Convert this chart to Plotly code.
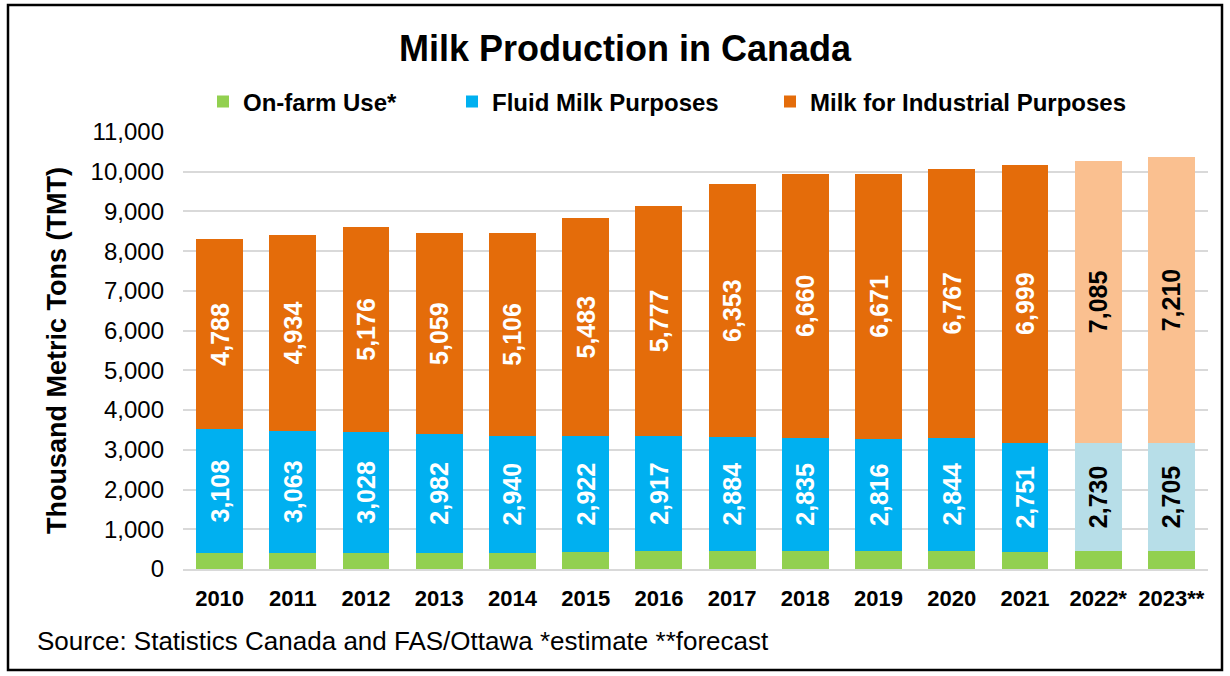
import plotly.graph_objects as go

# Marketing years and production by use (thousand metric tons)
years = ["2010", "2011", "2012", "2013", "2014", "2015", "2016",
         "2017", "2018", "2019", "2020", "2021", "2022*", "2023**"]
on_farm = [405, 413, 413, 413, 413, 423, 441, 442, 460, 460, 460, 430, 451, 460]
fluid = [3108, 3063, 3028, 2982, 2940, 2922, 2917, 2884, 2835, 2816, 2844, 2751, 2730, 2705]
industrial = [4788, 4934, 5176, 5059, 5106, 5483, 5777, 6353, 6660, 6671, 6767, 6999, 7085, 7210]
# 2022 is an estimate and 2023 a forecast: drawn in lighter shades
projected = [False] * 12 + [True, True]

FONT = "Liberation Sans, Arial, sans-serif"
W, H = 1230, 676
ML, MR, MT, MB = 183, 22, 132, 107
PW, PH = W - ML - MR, H - MT - MB


def px_x(x):
    return (x - ML) / PW


def px_y(y):
    return (H - MB - y) / PH


def fmt(vals):
    return [f"{v:,}" for v in vals]


def label_colors():
    return ["#000000" if p else "#FFFFFF" for p in projected]


green = ["#92D050" for p in projected]
blue = ["#B7DEE8" if p else "#00B0F0" for p in projected]
orange = ["#FAC090" if p else "#E46C0A" for p in projected]

fig = go.Figure()
fig.add_trace(go.Bar(
    x=years, y=on_farm, name="On-farm Use*",
    marker=dict(color=green, line=dict(width=0)),
    legend="legend",
))
fig.add_trace(go.Bar(
    x=years, y=fluid, name="Fluid Milk Purposes",
    marker=dict(color=blue, line=dict(width=0)),
    text=fmt(fluid), textposition="inside", textangle=-90,
    insidetextanchor="middle", constraintext="none",
    textfont=dict(family=FONT, size=25, weight="bold", color=label_colors()),
    legend="legend2",
))
fig.add_trace(go.Bar(
    x=years, y=industrial, name="Milk for Industrial Purposes",
    marker=dict(color=orange, line=dict(width=0)),
    text=fmt(industrial), textposition="inside", textangle=-90,
    insidetextanchor="middle", constraintext="none",
    textfont=dict(family=FONT, size=25, weight="bold", color=label_colors()),
    legend="legend3",
))

legend_font = dict(family=FONT, size=24, color="#000000", weight="bold")
legend_common = dict(
    orientation="h", yanchor="middle", xanchor="left",
    y=px_y(102), font=legend_font, bgcolor="rgba(0,0,0,0)",
    itemwidth=30, borderwidth=0,
)

fig.update_layout(
    width=W, height=H,
    margin=dict(l=ML, r=MR, t=MT, b=MB),
    paper_bgcolor="#FFFFFF", plot_bgcolor="#FFFFFF",
    barmode="stack", bargap=0.36,
    font=dict(family=FONT, color="#000000"),
    title=dict(
        text="Milk Production in Canada",
        font=dict(family=FONT, size=36, color="#000000", weight="bold"),
        x=(392 + 858) / 2 / W, xanchor="center",
        y=1 - 48 / H, yanchor="middle",
    ),
    legend=dict(x=px_x(203), **legend_common),
    legend2=dict(x=px_x(452), **legend_common),
    legend3=dict(x=px_x(770), **legend_common),
    xaxis=dict(
        type="category",
        showgrid=False,
        showline=True, linecolor="#D9D9D9", linewidth=2,
        ticks="", ticklabelstandoff=9,
        tickfont=dict(family=FONT, size=22, color="#000000", weight="bold"),
    ),
    yaxis=dict(
        range=[0, 11000], dtick=1000, tickformat=",",
        showgrid=True, gridcolor="#D9D9D9", gridwidth=2,
        zeroline=False, showline=False,
        ticks="", ticklabelstandoff=18,
        tickfont=dict(family=FONT, size=24, color="#000000"),
        title=dict(
            text="Thousand Metric Tons (TMT)",
            font=dict(family=FONT, size=27, color="#000000", weight="bold"),
            standoff=16,
        ),
    ),
    annotations=[
        dict(
            text="Source: Statistics Canada and FAS/Ottawa *estimate **forecast",
            xref="paper", yref="paper",
            x=px_x(35), y=px_y(641), xanchor="left", yanchor="middle",
            showarrow=False,
            font=dict(family=FONT, size=26, color="#000000"),
        ),
    ],
    shapes=[
        dict(
            type="rect", xref="paper", yref="paper",
            x0=px_x(8), x1=px_x(1222), y0=px_y(670), y1=px_y(5),
            line=dict(color="#000000", width=2.5),
            fillcolor="rgba(0,0,0,0)", layer="above",
        ),
    ],
    showlegend=True,
)

fig.write_html("out.html")
